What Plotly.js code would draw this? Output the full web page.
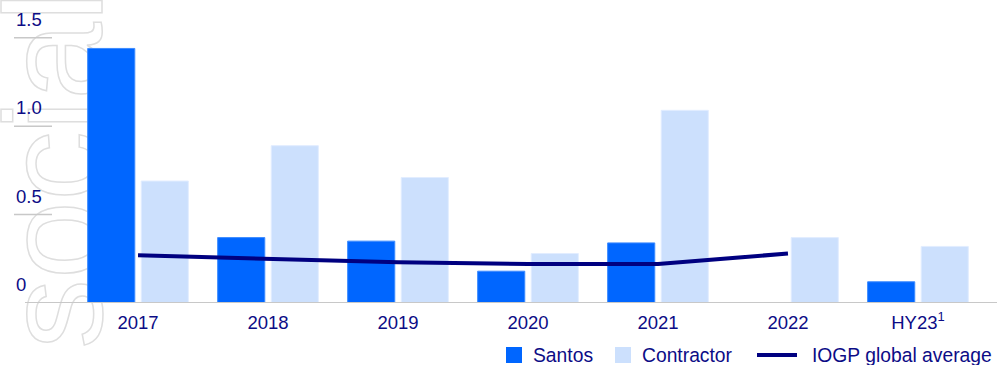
<!DOCTYPE html>
<html>
<head>
<meta charset="utf-8">
<script src="https://cdn.plot.ly/plotly-3.0.1.min.js"></script>
<style>
  html, body { margin: 0; padding: 0; background: #fff; overflow: hidden; }
  #wrap { position: relative; width: 997px; height: 365px; overflow: hidden; }
  #chart { position: absolute; left: 0; top: 0; width: 997px; height: 365px; }
  #wm { position: absolute; left: -125px; top: 170px; transform: translate(0,-50%) rotate(-90deg);
        transform-origin: center center; font-family: "Liberation Sans", Arial, sans-serif;
        font-size: 140px; color: transparent; -webkit-text-stroke: 1.5px #dedede; white-space: nowrap;
        pointer-events: none; z-index: 0; }
</style>
</head>
<body>
<div id="wrap">
  <div id="wm">social</div>
  <div id="chart"></div>
</div>
<script>
const categories = ["2017", "2018", "2019", "2020", "2021", "2022", "HY23<sup>1</sup>"];
const santos = [1.44, 0.37, 0.35, 0.18, 0.34, null, 0.12];
const contractor = [0.69, 0.89, 0.71, 0.28, 1.09, 0.37, 0.32];
const iogp = [0.27, 0.25, 0.23, 0.22, 0.22, 0.28, null];
const yTicks = [0, 0.5, 1.0, 1.5];
const yTickLabels = ["0", "0.5", "1.0", "1.5"];
const legendNames = ["Santos", "Contractor", "IOGP global average"];

const NAVY = "#0c0c86";
const FONT = "Liberation Sans, Arial, sans-serif";
const SANTOS_C = "#0066ff", CONTR_C = "#cce0fd", LINE_C = "#000080";

const traces = [
  { type: "bar", name: legendNames[0], x: categories, y: santos, showlegend: false,
    marker: { color: SANTOS_C, line: { color: "#3d8bff", width: 1 } } },
  { type: "bar", name: legendNames[1], x: categories, y: contractor, showlegend: false,
    marker: { color: CONTR_C, line: { color: "#e2edff", width: 1 } } },
  { type: "scatter", mode: "lines", name: legendNames[2], x: categories, y: iogp, showlegend: false,
    line: { color: LINE_C, width: 4 }, connectgaps: false }
];

const W = 997, H = 365;
const shapes = [];
const annotations = [];
const plotLeft = 14, plotWidth = 983, mT = 29, mB = 62;
const plotH = H - mT - mB;
yTicks.forEach((v, i) => {
  if (v === 0) {
    shapes.push({ type: "line", xref: "paper", yref: "y", x0: (25 - plotLeft) / plotWidth, x1: 1,
      y0: v, y1: v, line: { color: "#c8c8c8", width: 2 } });
  } else {
    shapes.push({ type: "line", xref: "paper", yref: "y", x0: 0, x1: (52 - plotLeft) / plotWidth,
      y0: v, y1: v, line: { color: "#c8c8c8", width: 1.5 } });
  }
  annotations.push({ xref: "paper", yref: "y", x: 0, y: v, xanchor: "left", yanchor: "bottom",
    text: yTickLabels[i], showarrow: false, yshift: 6, font: { family: FONT, size: 18.5, color: NAVY } });
});

// manual legend (pixel positions converted to paper coordinates)
const px = x => (x - plotLeft) / plotWidth;
const py = y => (H - mB - y) / plotH;
const legY = 355;
shapes.push({ type: "rect", xref: "paper", yref: "paper", x0: px(506), x1: px(522), y0: py(363), y1: py(347),
  fillcolor: SANTOS_C, line: { width: 0 } });
shapes.push({ type: "rect", xref: "paper", yref: "paper", x0: px(615), x1: px(631), y0: py(363), y1: py(347),
  fillcolor: CONTR_C, line: { width: 0 } });
shapes.push({ type: "line", xref: "paper", yref: "paper", x0: px(757), x1: px(797), y0: py(legY), y1: py(legY),
  line: { color: LINE_C, width: 4 } });
[[533, legendNames[0]], [642, legendNames[1]], [812, legendNames[2]]].forEach(([x, t]) => {
  annotations.push({ xref: "paper", yref: "paper", x: px(x), y: py(legY), xanchor: "left", yanchor: "middle",
    text: t, showarrow: false, borderpad: 0, xshift: -1, font: { family: FONT, size: 19.3, color: NAVY } });
});

const layout = {
  width: W, height: H,
  margin: { l: plotLeft, r: 0, t: mT, b: mB },
  paper_bgcolor: "rgba(0,0,0,0)", plot_bgcolor: "rgba(0,0,0,0)",
  barmode: "group", bargap: 0.176, bargroupgap: 0.12,
  font: { family: FONT, size: 18.5, color: NAVY },
  xaxis: { type: "category", range: [-0.954, 6.608], showgrid: false, zeroline: false, showline: false,
    ticks: "", ticklabelstandoff: 6, tickfont: { family: FONT, size: 18.5, color: NAVY }, fixedrange: true },
  yaxis: { range: [0, 1.55], showgrid: false, zeroline: false, showline: false, showticklabels: false,
    ticks: "", fixedrange: true },
  showlegend: false,
  shapes: shapes,
  annotations: annotations
};

Plotly.newPlot("chart", traces, layout, { displayModeBar: false, staticPlot: true });
</script>
</body>
</html>
